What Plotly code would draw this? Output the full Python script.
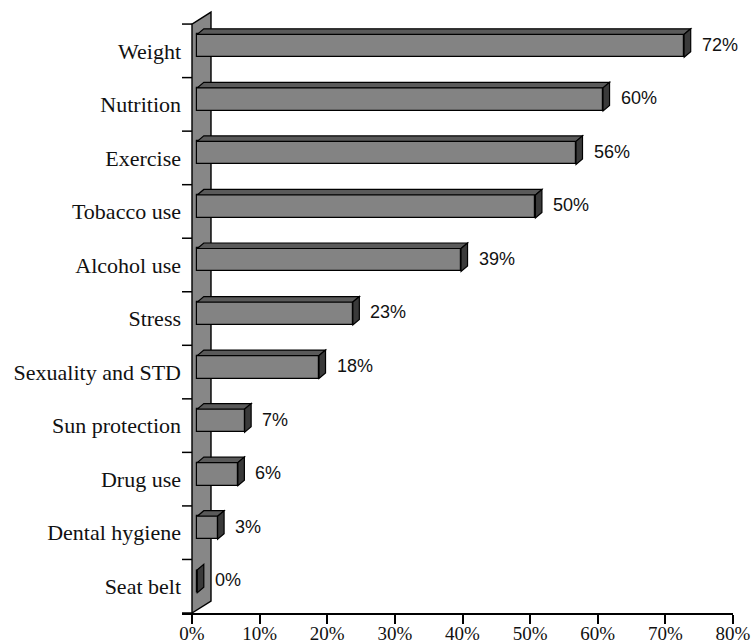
import plotly.graph_objects as go

# Survey data: share of respondents per health topic
categories = ["Weight", "Nutrition", "Exercise", "Tobacco use", "Alcohol use",
              "Stress", "Sexuality and STD", "Sun protection", "Drug use",
              "Dental hygiene", "Seat belt"]
values = [72, 60, 56, 50, 39, 23, 18, 7, 6, 3, 0]
x_ticks = [0, 10, 20, 30, 40, 50, 60, 70, 80]

# Figure geometry
W, H = 752, 644
M_L, M_R, M_T, M_B = 182, 19, 8, 31
X_MAX = 80
Y_MAX = 11.3
TICK_PX = 10                                   # length of the category tick marks
px_x = (W - M_L - M_R - TICK_PX) / X_MAX       # pixels per percent
X_MIN = -TICK_PX / px_x
px_y = (H - M_T - M_B) / Y_MAX                 # pixels per category band

def dx(px):
    return px / px_x

def dy(px):
    return px / px_y

n = len(categories)
centers = [n - 1 - i + 0.5 for i in range(n)]      # Weight at top

# pseudo-3D settings
wall_dx, wall_dy = dx(19), dy(12)
bar_shift_x, bar_shift_y = dx(5.3), dy(5)
bar_h = dy(23)
bar_dx, bar_dy = dx(6.5), dy(5.5)

FRONT = "#838383"
TOP = "#5a5a5a"
SIDE = "#3a3a3a"
WALL = "#878787"
EDGE = "black"

def poly(pts):
    return "M " + " L ".join(f"{x},{y}" for x, y in pts) + " Z"

shapes = []
# side wall behind the bars
shapes.append(dict(type="path", xref="x", yref="y", layer="below",
                   path=poly([(0, 0), (0, n), (wall_dx, n + wall_dy), (wall_dx, wall_dy)]),
                   fillcolor=WALL, line=dict(color=EDGE, width=1.4)))

bar_y = [c + bar_shift_y for c in centers]

for v, yc in zip(values, bar_y):
    x0 = bar_shift_x
    x1 = bar_shift_x + v
    yb, yt = yc - bar_h / 2, yc + bar_h / 2
    # top face
    if v > 0:
        shapes.append(dict(type="path", xref="x", yref="y", layer="above",
                           path=poly([(x0, yt), (x1, yt), (x1 + bar_dx, yt + bar_dy), (x0 + bar_dx, yt + bar_dy)]),
                           fillcolor=TOP, line=dict(color=EDGE, width=1.2)))
    # end face
    shapes.append(dict(type="path", xref="x", yref="y", layer="above",
                       path=poly([(x1, yb), (x1, yt), (x1 + bar_dx, yt + bar_dy), (x1 + bar_dx, yb + bar_dy)]),
                       fillcolor=SIDE, line=dict(color=EDGE, width=1.2)))

fig = go.Figure()

# front faces of the bars
fig.add_trace(go.Bar(
    x=values, y=bar_y, base=bar_shift_x, orientation="h", width=bar_h,
    marker=dict(color=FRONT, line=dict(color=EDGE, width=1.2)),
    hoverinfo="skip", showlegend=False,
))

# tick marks on the category axis, at the band boundaries
tick_x, tick_y = [], []
for k in range(n + 1):
    tick_x += [X_MIN, 0, None]
    tick_y += [k, k, None]
fig.add_trace(go.Scatter(x=tick_x, y=tick_y, mode="lines", line=dict(color=EDGE, width=1.5),
                         hoverinfo="skip", showlegend=False))

annotations = []
for v, yc in zip(values, bar_y):
    annotations.append(dict(
        x=bar_shift_x + v + bar_dx, y=yc + bar_dy * 0.2, xref="x", yref="y",
        text=f"{v}%", showarrow=False, xanchor="left", yanchor="middle", xshift=9,
        font=dict(family="Liberation Sans, Arial", size=18, color="#111111"),
    ))

fig.update_layout(
    width=W, height=H,
    margin=dict(l=M_L, r=M_R, t=M_T, b=M_B, pad=0, autoexpand=False),
    paper_bgcolor="white", plot_bgcolor="white",
    bargap=0, shapes=shapes, annotations=annotations,
    xaxis=dict(range=[X_MIN, X_MAX], tickvals=x_ticks, ticktext=[f"{t}%" for t in x_ticks],
               showgrid=False, zeroline=False, showline=True, linecolor=EDGE, linewidth=1.5,
               ticks="outside", ticklen=9, tickwidth=1.5, tickcolor=EDGE,
               ticklabelstandoff=-7, automargin=False,
               tickfont=dict(family="Liberation Serif, Times New Roman", size=19, color="#111111"),
               fixedrange=True),
    yaxis=dict(range=[0, Y_MAX], tickvals=centers, ticktext=categories,
               showgrid=False, zeroline=False, showline=False, ticks="", automargin=False,
               tickfont=dict(family="Liberation Serif, Times New Roman", size=22, color="#111111"),
               fixedrange=True),
)

fig.write_html("out.html")
